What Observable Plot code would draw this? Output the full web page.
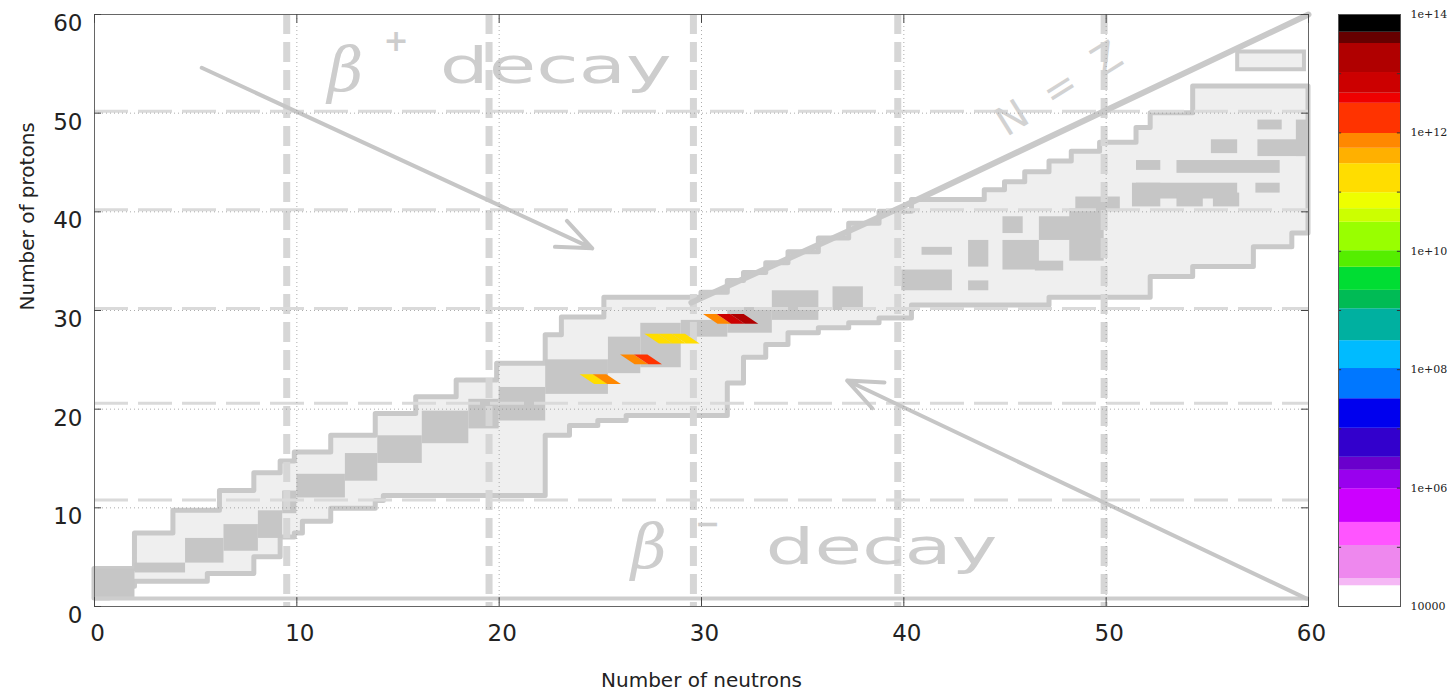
<!DOCTYPE html>
<html><head><meta charset="utf-8">
<script src="https://cdn.jsdelivr.net/npm/d3@7"></script>
<script src="https://cdn.jsdelivr.net/npm/@observablehq/plot@0.6"></script>
<style>
body{margin:0;background:#fff;}
#wrap{position:relative;width:1447px;height:698px;overflow:hidden;}
#main,#bar{position:absolute;top:0;}
#main{left:0;}
#bar{left:1330px;}
</style></head><body><div id="wrap"><div id="main"></div><div id="bar"></div></div>
<script>
// ---- axes ----
const xTicks = [0, 10, 20, 30, 40, 50, 60];
const yTicks = [0, 10, 20, 30, 40, 50, 60];
const gridTicks = [10, 20, 30, 40, 50];
const xTitle = "Number of neutrons";
const yTitle = "Number of protons";

// ---- nuclide chart background (known nuclides, stepped) ----
const regionN  = [0, 0.75, 2, 3.9, 5.6, 6.2, 7.9, 9.2, 9.9, 10.3, 11.7, 13.9, 14.3, 15.9, 17.9, 19.9, 22.3, 23.1, 23.5, 24.9, 25.2, 26.3, 29.2, 30, 31.3, 32.1, 33.2, 34.3, 35.8, 37.3, 38.8, 40.4, 44, 45, 46, 47.2, 48.3, 49.7, 51.5, 52.2, 54.3, 57.3, 59.2, 60];
const regionLo = [0.8, 2.0, 2.5, 2.5, 3.3, 3.3, 5.0, 7.0, 7.4, 8.6, 9.9, 10.7, 11.2, 11.2, 11.2, 11.2, 17.3, 17.3, 18.3, 18.8, 18.8, 19.3, 19.3, 19.3, 22.6, 25.2, 26.5, 27.7, 28.2, 28.7, 29.2, 30.5, 30.5, 30.5, 30.5, 31.3, 31.3, 31.3, 31.3, 33.4, 34.4, 36.4, 37.8, 37.8];
const regionHi = [3.8, 3.8, 7.4, 9.7, 9.7, 11.7, 13.5, 14.7, 15.6, 15.6, 17.3, 19.5, 19.5, 21.2, 22.9, 24.6, 27.5, 29.3, 29.3, 29.3, 31.3, 31.3, 31.3, 31.8, 33.0, 33.8, 34.8, 35.9, 37.3, 38.8, 40.0, 41.2, 42.2, 43.0, 44.0, 45.1, 46.1, 47.0, 48.5, 50.0, 52.7, 52.7, 52.7, 52.7];

// stable (dark) cells
const darkN1 = [0, 2, 4.5, 6.4, 8.1, 9.3, 10, 12.4, 14, 16.2, 18.5, 20, 22.3, 25.4, 27, 29, 31.3, 33.5, 36.5, 39.9, 40.9, 43.2, 44.9, 44.9, 46.7, 48.2, 46.5, 43.2, 48.5, 51.3, 51.5, 57.4, 51.5, 53.5, 55.2, 57.5, 57.5, 59.4, 53.5, 55.3];
const darkN2 = [2, 4.5, 6.4, 8.1, 9.3, 10, 12.4, 14, 16.2, 18.5, 20, 22.3, 25.4, 27, 29, 31.3, 33.5, 35.8, 38, 42.4, 42.4, 44.2, 45.9, 46.7, 49.5, 49.9, 47.9, 44.2, 50.7, 52.7, 56.5, 58.6, 52.7, 58.6, 56.5, 60, 58.7, 60, 54.8, 56.6];
const darkZ1 = [0.8, 3.4, 4.4, 5.6, 6.9, 9.4, 11, 12.7, 14.5, 16.5, 18, 18.8, 21.5, 23.6, 24.2, 27.3, 27.7, 29, 30, 32, 35.6, 34.4, 37.8, 34.1, 37.1, 35, 34, 32, 40, 40.5, 41.3, 41.9, 44.2, 43.9, 45.9, 45.6, 48.3, 45.6, 40.5, 40.5];
const darkZ2 = [3.8, 4.4, 6.9, 8.3, 9.7, 11.7, 13.4, 15.5, 17.3, 19.8, 21, 22.2, 25, 27.3, 28.7, 29, 30.3, 32, 32.4, 34.1, 36.4, 37.1, 39.5, 37.1, 39.5, 40.3, 35, 33, 41.5, 42.9, 42.9, 42.9, 45.2, 45.2, 47.3, 47.3, 49.3, 49.3, 41.9, 41.9];

// isolated outline blob
const blobN1 = [56.5], blobN2 = [59.8], blobZ1 = [54.4], blobZ2 = [56.2];

// magic-number guide lines and bottom row
const magicN = [9.5, 19.5, 29.6, 39.7, 49.9];
const magicZ = [10.8, 20.6, 30.2, 40.2, 50.2];
const bottomRowZ = [0.8];

// N = Z line
const nzLineN = [29.5, 40, 60];
const nzLineZ = [30.8, 40.6, 60];

// decay arrows
const arrowN1 = [5.3, 59.9], arrowZ1 = [54.6, 0.8];
const arrowN2 = [24.6, 37.2], arrowZ2 = [36.3, 22.9];

// annotation texts
const betaText = ["β", "β"], betaN = [12.4, 27.4], betaZ = [54.3, 5.9];
const signText = ["+", "−"], signN = [14.9, 30.3], signZ = [57.3, 8.3];
const decayText = ["decay", "decay"], decayN = [22.8, 38.9], decayZ = [54.7, 5.9];
const nzText = ["N = Z"], nzTextN = [47.8], nzTextZ = [52.6];

// flux cells (colored parallelogram segments)
const fluxN = [24.0, 24.65, 26.0, 26.68, 27.2, 27.87, 28.54, 30.1, 30.77, 31.44];
const fluxZ = [22.5, 22.5, 24.5, 24.5, 26.6, 26.6, 26.6, 28.6, 28.6, 28.6];
const fluxV = [3e11, 7e11, 7e11, 2e12, 2e11, 2e11, 2e11, 7e11, 5e12, 1.5e13];

// colour bar (log10 band edges, ascending) and tick labels
const bandEdges = [4, 4.35, 4.47, 5.03, 5.42, 5.99, 6.3, 6.52, 7.01, 7.51, 8.02, 8.49, 9.03, 9.34, 9.73, 10.01, 10.49, 10.72, 10.99, 11.48, 11.74, 11.99, 12.5, 12.67, 13.02, 13.51, 13.7, 14];
const bandColors = ["#ffffff", "#f5b8f5", "#ee88ee", "#ff55ff", "#cc00ff", "#9900ee", "#6a00cc", "#3300cc", "#0000ee", "#0077ff", "#00bbff", "#00b0a0", "#00bb55", "#00dd33", "#55ee00", "#99ff00", "#ccff00", "#eeff00", "#ffdd00", "#ffb000", "#ff8800", "#ff3300", "#ee0000", "#cc0000", "#b00000", "#660000", "#000000"];
const barTickVals = [1e4, 1e5, 1e6, 1e7, 1e8, 1e9, 1e10, 1e11, 1e12, 1e13, 1e14];
const barLabelVals = [1e4, 1e6, 1e8, 1e10, 1e12, 1e14];
const barLabels = ["10000", "1e+06", "1e+08", "1e+10", "1e+12", "1e+14"];

// ---- build ----
const colorScale = {type: "threshold", domain: bandEdges.slice(1, -1).map(e => 10 ** e), range: bandColors};

const regionRows = regionN.map((n, i) => ({n, lo: regionLo[i], hi: regionHi[i]}));
const darkRows = darkN1.map((n, i) => ({n1: n, n2: darkN2[i], z1: darkZ1[i], z2: darkZ2[i]}));
const blobRows = blobN1.map((n, i) => ({n1: n, n2: blobN2[i], z1: blobZ1[i], z2: blobZ2[i]}));
const nzRows = nzLineN.map((n, i) => ({n, z: nzLineZ[i]}));
const arrowRows = arrowN1.map((n, i) => ({x1: n, y1: arrowZ1[i], x2: arrowN2[i], y2: arrowZ2[i]}));
const segW = 0.67, segH = 1.0, segSkew = 0.72;
const fluxRows = fluxN.flatMap((n, i) => [
  {id: i, row: fluxZ[i], x1: n + segSkew, x2: n + segW + segSkew, v: fluxV[i]},
  {id: i, row: fluxZ[i] + segH, x1: n, x2: n + segW, v: fluxV[i]}
]);
const grey = "#c9c9c9";

const main = Plot.plot({
  width: 1330, height: 698,
  marginLeft: 94, marginRight: 22, marginTop: 14, marginBottom: 92,
  x: {domain: [0, 60], axis: null},
  y: {domain: [0, 60], axis: null},
  color: colorScale,
  style: {fontFamily: "DejaVu Sans", background: "#fff", overflow: "visible"},
  marks: [
    Plot.areaY(regionRows, {x: "n", y1: "lo", y2: "hi", curve: "step-after", fill: "#efefef", stroke: grey, strokeWidth: 5}),
    Plot.rect(darkRows, {x1: "n1", x2: "n2", y1: "z1", y2: "z2", fill: "#c6c6c6"}),
    Plot.rect(blobRows, {x1: "n1", x2: "n2", y1: "z1", y2: "z2", fill: "#efefef", stroke: grey, strokeWidth: 4}),
    Plot.ruleX(magicN, {stroke: "#d6d6d6", strokeWidth: 7, strokeDasharray: "20,8"}),
    Plot.ruleY(magicZ, {stroke: "#dadada", strokeWidth: 3, strokeDasharray: "34,10"}),
    Plot.ruleY(bottomRowZ, {x1: 0, x2: 60, stroke: "#cdcdcd", strokeWidth: 4}),
    Plot.line(nzRows, {x: "n", y: "z", stroke: grey, strokeWidth: 6}),
    Plot.arrow(arrowRows, {x1: "x1", y1: "y1", x2: "x2", y2: "y2", stroke: "#c6c6c6", strokeWidth: 4, headLength: 14, headAngle: 45}),
    Plot.text(betaText, {x: (d, i) => betaN[i], y: (d, i) => betaZ[i], text: d => d, fontFamily: "DejaVu Serif", fontStyle: "italic", fontSize: 62, fill: "#cdcdcd"}),
    Plot.text(signText, {x: (d, i) => signN[i], y: (d, i) => signZ[i], text: d => d, fontSize: 30, fontWeight: "bold", fill: "#cdcdcd"}),
    Plot.text(decayText, {x: (d, i) => decayN[i], y: (d, i) => decayZ[i], text: d => d, fontSize: 50, fill: "#cdcdcd"}),
    Plot.text(nzText, {x: (d, i) => nzTextN[i], y: (d, i) => nzTextZ[i], text: d => d, fontSize: 40, rotate: -32, fill: "#d2d2d2"}),
    Plot.ruleX(gridTicks, {stroke: "#8a8a8a", strokeWidth: 0.7, strokeDasharray: "1,3"}),
    Plot.ruleY(gridTicks, {stroke: "#8a8a8a", strokeWidth: 0.7, strokeDasharray: "1,3"}),
    Plot.areaX(fluxRows, {y: "row", x1: "x1", x2: "x2", z: "id", fill: "v"}),
    Plot.frame({stroke: "#666"}),
    Plot.ruleX(xTicks, {y1: 0, y2: 0.9, stroke: "#444"}),
    Plot.ruleX(xTicks, {y1: 59.1, y2: 60, stroke: "#444"}),
    Plot.ruleY(yTicks, {x1: 0, x2: 0.35, stroke: "#444"}),
    Plot.ruleY(yTicks, {x1: 59.65, x2: 60, stroke: "#444"}),
    Plot.text(xTicks, {x: d => d, y: 0, text: d => String(d), dy: 27, dx: 3, fontSize: 23, fill: "#222"}),
    Plot.text(yTicks, {x: 0, y: d => d, text: d => String(d), textAnchor: "end", dx: -12, dy: 9, fontSize: 23, fill: "#222"}),
    Plot.text([xTitle], {frameAnchor: "bottom", dy: 80, fontSize: 20, fill: "#222"}),
    Plot.text([yTitle], {frameAnchor: "left", dx: -67, rotate: -90, fontSize: 20, fill: "#222"})
  ]
});
main.querySelectorAll("text").forEach(t => {
  if (t.textContent === "decay") { t.setAttribute("textLength", "232"); t.setAttribute("lengthAdjust", "spacingAndGlyphs"); }
  if (t.textContent === "N = Z") t.setAttribute("letter-spacing", "6");
});
document.getElementById("main").appendChild(main);

const bandRows = bandColors.map((c, i) => ({lo: 10 ** bandEdges[i], hi: 10 ** bandEdges[i + 1]}));
const bar = Plot.plot({
  width: 117, height: 698,
  marginLeft: 8, marginRight: 47, marginTop: 14, marginBottom: 92,
  x: {domain: [0, 1], axis: null},
  y: {type: "log", domain: [1e4, 1e14], axis: null},
  color: colorScale,
  style: {background: "transparent", overflow: "visible"},
  marks: [
    Plot.rect(bandRows, {x1: 0, x2: 1, y1: "lo", y2: "hi", fill: "lo"}),
    Plot.ruleY(barTickVals, {x1: 0, x2: 0.05, stroke: "#333"}),
    Plot.ruleY(barTickVals, {x1: 0.95, x2: 1, stroke: "#333"}),
    Plot.frame({stroke: "#555"}),
    Plot.text(barLabelVals, {x: 1, y: d => d, text: (d, i) => barLabels[i], dx: 10, textAnchor: "start", fontFamily: "DejaVu Serif", fontSize: 11, fill: "#222"})
  ]
});
document.getElementById("bar").appendChild(bar);
</script></body></html>
